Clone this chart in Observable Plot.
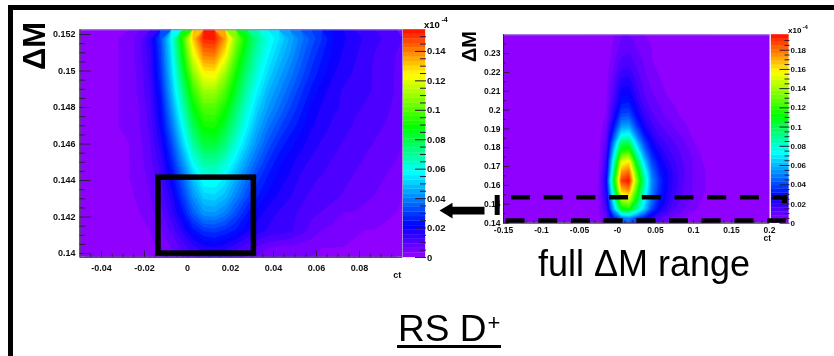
<!DOCTYPE html>
<html><head><meta charset="utf-8">
<script src="https://cdn.jsdelivr.net/npm/d3@7"></script>
<script src="https://cdn.jsdelivr.net/npm/@observablehq/plot@0.6"></script>
<style>
html,body{margin:0;padding:0;background:#fff;overflow:hidden}
#page{position:relative;width:834px;height:356px;overflow:hidden;font-family:"Liberation Sans",Arial,sans-serif;color:#000;filter:blur(0.3px)}
#page svg{position:absolute;overflow:visible;max-width:none;background:transparent}
.t{position:absolute;line-height:1;white-space:pre}
.rot{transform-origin:0 0;transform:rotate(-90deg);font-weight:bold}
.exp{font-weight:bold}
#border{position:absolute;left:7.5px;top:5px;right:-10px;bottom:-10px;border-top:5px solid #000;border-left:5px solid #000}
#rule{position:absolute;left:396.7px;top:345px;width:104.3px;height:3px;background:#000}
</style></head><body><div id="page"><div id="border"></div><div id="rule"></div></div>
<script>
// Shared colour stops (fraction of the palette top)
const paletteStops = [0, 0.13, 0.36, 0.56, 0.79, 1];
const paletteColors = ["#8f00ff", "#0000ff", "#00ffff", "#00ff00", "#ffff00", "#ff0000"];

// Left panel, zoomed ΔM range
const leftTickX = [-0.04, -0.02, 0, 0.02, 0.04, 0.06, 0.08];
const leftTickXLabels = ["-0.04", "-0.02", "0", "0.02", "0.04", "0.06", "0.08"];
const leftMinorX = [-0.045,-0.035,-0.03,-0.025,-0.015,-0.01,-0.005,0.005,0.01,0.015,0.025,0.03,0.035,0.045,0.05,0.055,0.065,0.07,0.075,0.085,0.09,0.095];
const leftTickY = [0.14, 0.142, 0.144, 0.146, 0.148, 0.15, 0.152];
const leftMinorY = [0.1405,0.141,0.1415,0.1425,0.143,0.1435,0.1445,0.145,0.1455,0.1465,0.147,0.1475,0.1485,0.149,0.1495,0.1505,0.151,0.1515];
const leftBarTicks = [0, 0.02, 0.04, 0.06, 0.08, 0.1, 0.12, 0.14];
const leftBarLabels = ["0", "0.02", "0.04", "0.06", "0.08", "0.1", "0.12", "0.14"];
const leftBarMinor = [0.005,0.01,0.015,0.025,0.03,0.035,0.045,0.05,0.055,0.065,0.07,0.075,0.085,0.09,0.095,0.105,0.11,0.115,0.125,0.13,0.135,0.145,0.15];
const leftBoxX = [-0.0135, 0.0309];
const leftBoxY = [0.14, 0.14416];
// density, rows bottom to top, 30 columns across ct -0.05 .. 0.1
const leftGrid = [
[.001,.001,.001,.001,.001,.002,.002,.004,.006,.010,.014,.017,.018,.016,.013,.010,.008,.006,.005,.005,.004,.004,.003,.003,.003,.002,.002,.002,.001,.001],
[.001,.001,.001,.001,.002,.002,.003,.006,.010,.016,.023,.028,.029,.027,.024,.019,.017,.015,.014,.013,.011,.008,.006,.005,.004,.004,.003,.003,.002,.002],
[.001,.001,.001,.002,.002,.003,.005,.008,.014,.023,.034,.042,.043,.039,.032,.025,.020,.017,.015,.013,.012,.010,.009,.008,.006,.006,.005,.004,.004,.003],
[.001,.001,.001,.002,.002,.004,.006,.010,.017,.029,.042,.051,.052,.048,.040,.032,.025,.021,.018,.016,.013,.012,.011,.010,.009,.008,.007,.006,.005,.004],
[.001,.001,.002,.002,.003,.004,.007,.012,.021,.034,.049,.059,.060,.055,.046,.037,.029,.024,.020,.018,.015,.013,.012,.011,.010,.009,.008,.007,.006,.005],
[.001,.001,.002,.002,.003,.005,.008,.014,.026,.042,.059,.069,.070,.064,.054,.044,.035,.028,.023,.020,.017,.015,.014,.012,.011,.010,.009,.008,.007,.006],
[.001,.001,.002,.002,.003,.005,.009,.017,.031,.050,.069,.081,.082,.074,.062,.051,.041,.033,.027,.023,.020,.017,.015,.014,.012,.011,.010,.009,.008,.007],
[.001,.001,.002,.003,.004,.006,.010,.020,.037,.057,.078,.090,.091,.082,.069,.057,.046,.038,.032,.027,.023,.019,.017,.015,.014,.012,.011,.010,.009,.007],
[.001,.001,.002,.003,.004,.006,.011,.022,.042,.064,.086,.099,.099,.090,.076,.062,.051,.043,.037,.031,.026,.021,.018,.016,.015,.013,.012,.011,.010,.008],
[.001,.001,.002,.003,.004,.007,.012,.025,.047,.071,.095,.110,.110,.099,.083,.068,.056,.047,.041,.035,.029,.024,.020,.017,.015,.014,.013,.012,.010,.009],
[.001,.001,.002,.003,.004,.007,.013,.028,.051,.078,.107,.124,.125,.110,.090,.074,.061,.052,.045,.039,.033,.027,.023,.019,.017,.015,.013,.012,.010,.009],
[.001,.001,.002,.003,.004,.008,.014,.030,.054,.086,.119,.139,.140,.124,.099,.080,.066,.056,.049,.043,.036,.030,.025,.021,.018,.016,.014,.012,.011,.009],
[.001,.001,.002,.003,.004,.008,.015,.032,.057,.092,.130,.152,.153,.136,.107,.086,.070,.060,.053,.046,.039,.033,.028,.022,.019,.017,.015,.013,.012,.010]
];

// Right panel, full ΔM range
const rightTickX = [-0.15, -0.1, -0.05, 0, 0.05, 0.1, 0.15, 0.2];
const rightTickXLabels = ["-0.15", "-0.1", "-0.05", "-0", "0.05", "0.1", "0.15", "0.2"];
const rightMinorX = [-0.14,-0.13,-0.12,-0.11,-0.09,-0.08,-0.07,-0.06,-0.04,-0.03,-0.02,-0.01,0.01,0.02,0.03,0.04,0.06,0.07,0.08,0.09,0.11,0.12,0.13,0.14,0.16,0.17,0.18,0.19];
const rightTickY = [0.14, 0.15, 0.16, 0.17, 0.18, 0.19, 0.2, 0.21, 0.22, 0.23];
const rightMinorY = [0.145,0.155,0.165,0.175,0.185,0.195,0.205,0.215,0.225,0.235];
const rightBarTicks = [0, 0.02, 0.04, 0.06, 0.08, 0.1, 0.12, 0.14, 0.16, 0.18];
const rightBarLabels = ["0", "0.02", "0.04", "0.06", "0.08", "0.1", "0.12", "0.14", "0.16", "0.18"];
const rightBarMinor = [0.005,0.01,0.015,0.025,0.03,0.035,0.045,0.05,0.055,0.065,0.07,0.075,0.085,0.09,0.095,0.105,0.11,0.115,0.125,0.13,0.135,0.145,0.15,0.155,0.165,0.17,0.175,0.185,0.19];
// density, rows bottom to top (ΔM 0.14 .. 0.24), 18 columns across ct -0.05 .. 0.13
const rightGrid = [
[0,.001,.003,.009,.030,.047,.050,.040,.030,.020,.013,.009,.006,.004,.002,.001,0,0],
[0,.001,.003,.014,.060,.108,.116,.090,.065,.040,.026,.018,.012,.009,.006,.004,.002,.001],
[0,.001,.004,.018,.075,.140,.148,.110,.075,.047,.032,.022,.015,.011,.008,.005,.003,.001],
[0,.001,.004,.021,.090,.168,.176,.124,.083,.050,.034,.024,.017,.012,.009,.006,.004,.002],
[0,.001,.004,.024,.105,.188,.196,.137,.090,.052,.036,.025,.018,.013,.009,.006,.004,.002],
[0,.001,.003,.020,.090,.172,.180,.124,.080,.047,.032,.024,.018,.013,.009,.006,.004,.002],
[0,.001,.003,.017,.080,.152,.160,.106,.066,.040,.028,.021,.016,.012,.009,.006,.003,.001],
[0,0,.002,.014,.065,.120,.125,.084,.052,.032,.023,.018,.014,.011,.008,.005,.002,.001],
[0,0,.002,.011,.052,.097,.100,.065,.040,.026,.019,.015,.012,.009,.006,.003,.001,0],
[0,0,.001,.008,.038,.069,.072,.048,.030,.020,.015,.012,.009,.007,.004,.002,.001,0],
[0,0,.001,.006,.028,.052,.054,.036,.023,.016,.012,.009,.007,.005,.003,.001,0,0],
[0,0,.001,.004,.021,.040,.041,.028,.018,.013,.009,.007,.005,.003,.002,.001,0,0],
[0,0,.001,.004,.017,.032,.033,.023,.015,.010,.008,.005,.004,.002,.001,0,0,0],
[0,0,0,.003,.014,.027,.028,.019,.012,.009,.006,.004,.002,.001,0,0,0,0],
[0,0,0,.003,.012,.023,.024,.016,.011,.007,.005,.003,.002,.001,0,0,0,0],
[0,0,0,.002,.010,.019,.020,.014,.009,.006,.004,.002,.001,0,0,0,0,0],
[0,0,0,.002,.008,.015,.016,.012,.008,.005,.003,.001,0,0,0,0,0,0],
[0,0,0,.001,.006,.012,.013,.010,.007,.004,.002,.001,0,0,0,0,0,0],
[0,0,0,.001,.005,.010,.011,.008,.006,.004,.002,0,0,0,0,0,0,0],
[0,0,0,.001,.004,.008,.009,.007,.005,.003,.001,0,0,0,0,0,0,0]
];
// Dashed selection outline and arrow on the right panel
const dashTop = {y: 0.1537, x1: -0.1395, x2: 0.222};
const dashBottom = {y: 0.1413, x1: -0.1467, x2: 0.222};
const sideBars = [{x: -0.1583, y1: 0.144, y2: 0.1546}, {x: 0.2197, y1: 0.1503, y2: 0.1546}];
const arrowX = [-0.2342, -0.2171, -0.2171, -0.175, -0.175, -0.2171, -0.2171, -0.2342];
const arrowY = [0.1466, 0.1508, 0.1487, 0.1487, 0.1445, 0.1445, 0.1424, 0.1466];

const page = document.getElementById("page");
const tickColor = "#2a1a40", font = '"Liberation Sans",Arial,sans-serif';
const place = (svg, left, top) => { svg.style.left = left + "px"; svg.style.top = top + "px"; page.appendChild(svg); };
const colorScale = top => ({type: "linear", domain: paletteStops.map(s => s * top), range: paletteColors, interpolate: "rgb"});

function colorbar({left, width, height, barWidth, marginTop, marginBottom, top, ticks, labels, minor, major, small, fontSize}) {
  const step = top / 50, levels = d3.range(50).map(i => i * step);
  return place(Plot.plot({
    width, height, marginLeft: 0, marginRight: width - barWidth, marginTop, marginBottom,
    x: {domain: [0, 1], axis: null},
    y: {domain: [0, top], axis: null},
    color: colorScale(top),
    style: {fontFamily: font, fontSize: fontSize + "px", fontWeight: "bold"},
    marks: [
      Plot.rect(levels, {x1: 0, x2: 1, y1: d => d, y2: d => d + step, fill: d => d, stroke: d => d, strokeWidth: 0.3}),
      Plot.axisY({ticks: minor, anchor: "right", tickSize: -small, text: null, label: null, stroke: tickColor}),
      Plot.axisY({ticks, anchor: "right", tickSize: -major, text: null, label: null, stroke: tickColor}),
      Plot.axisY({ticks, anchor: "right", tickSize: 0, tickPadding: 1.5, label: null, tickFormat: (d, i) => labels[i], fill: "#111"})
    ]
  }), left, 0);
}

function panel({left, width, height, ml, mr, mt, mb, xDomain, yDomain, grid, x1, x2, y1, y2, top, ct, fontSize, xTicks, xLabels, xMinor, yTicks, yMinor, yMajorLen, yMinorLen, xMajorLen, xMinorLen, padX, padY, extra}) {
  const step = top / 50, levels = d3.range(50).map(i => i * step);
  const w = grid[0].length, h = grid.length;
  return place(Plot.plot({
    width, height, marginLeft: ml, marginRight: mr, marginTop: mt, marginBottom: mb,
    x: {domain: xDomain, axis: null},
    y: {domain: yDomain, axis: null},
    color: colorScale(top),
    style: {fontFamily: font, fontSize: fontSize + "px", fontWeight: "bold"},
    marks: [
      Plot.rect([0], {x1: xDomain[0], x2: xDomain[1], y1: yDomain[0], y2: yDomain[1], fill: paletteColors[0]}),
      Plot.contour(grid.flat(), {x1, x2, y1, y2, width: w, height: h, fill: Plot.identity, thresholds: levels, stroke: "none", clip: true}),
      Plot.frame({stroke: "#a48ad0", strokeWidth: 1}),
      Plot.ruleX([xDomain[0]], {stroke: tickColor, strokeWidth: 1}),
      Plot.ruleY([yDomain[0]], {stroke: tickColor, strokeWidth: 1}),
      Plot.axisY({ticks: yMinor, tickSize: -yMinorLen, text: null, label: null, stroke: tickColor}),
      Plot.axisY({ticks: yTicks, tickSize: -yMajorLen, text: null, label: null, stroke: tickColor}),
      Plot.axisX({ticks: xMinor, tickSize: -xMinorLen, text: null, label: null, stroke: tickColor}),
      Plot.axisX({ticks: xTicks, tickSize: -xMajorLen, text: null, label: null, stroke: tickColor}),
      Plot.axisY({ticks: yTicks, tickSize: 0, tickPadding: padY, label: null, tickFormat: d => String(d), fill: "#111"}),
      Plot.axisX({ticks: xTicks, tickSize: 0, tickPadding: padX, label: null, tickFormat: (d, i) => xLabels[i], fill: "#111"}),
      Plot.text(["ct"], {x: ct.x, y: yDomain[0], dy: ct.dy, text: d => d, fill: "#111"}),
      ...extra
    ]
  }), left, 0);
}

colorbar({left: 403, width: 60, height: 285, barWidth: 22, marginTop: 29.3, marginBottom: 28, top: 0.1547,
  ticks: leftBarTicks, labels: leftBarLabels, minor: leftBarMinor, major: 11, small: 6, fontSize: 9.5});
colorbar({left: 771, width: 50, height: 250, barWidth: 17.5, marginTop: 34.3, marginBottom: 27.3, top: 0.196,
  ticks: rightBarTicks, labels: rightBarLabels, minor: rightBarMinor, major: 10, small: 5, fontSize: 8});

panel({left: 0, width: 403, height: 285, ml: 79.5, mr: 1, mt: 29.3, mb: 28.3,
  xDomain: [-0.05, 0.1], yDomain: [0.1398, 0.15226],
  grid: leftGrid, x1: -0.05, x2: 0.1, y1: 0.1398, y2: 0.15226, top: 0.1547,
  ct: {x: 0.0975, dy: 18}, fontSize: 9,
  xTicks: leftTickX, xLabels: leftTickXLabels, xMinor: leftMinorX,
  yTicks: leftTickY, yMinor: leftMinorY,
  yMajorLen: 11, yMinorLen: 6, xMajorLen: 6, xMinorLen: 3, padX: 7, padY: 4.5,
  extra: [
    Plot.rect([0], {x1: leftBoxX[0], x2: leftBoxX[1], y1: leftBoxY[0], y2: leftBoxY[1], fill: "none", stroke: "#000", strokeWidth: 5.5})
  ]});

panel({left: 430, width: 340, height: 250, ml: 73, mr: 1, mt: 34.3, mb: 27.5,
  xDomain: [-0.15, 0.2], yDomain: [0.14, 0.24],
  grid: rightGrid, x1: -0.05, x2: 0.13, y1: 0.14, y2: 0.24, top: 0.196,
  ct: {x: 0.197, dy: 15}, fontSize: 8.5,
  xTicks: rightTickX, xLabels: rightTickXLabels, xMinor: rightMinorX,
  yTicks: rightTickY, yMinor: rightMinorY,
  yMajorLen: 6, yMinorLen: 3, xMajorLen: 3, xMinorLen: 2, padX: 4, padY: 3,
  extra: [
    Plot.ruleY([dashTop], {y: "y", x1: "x1", x2: "x2", stroke: "#000", strokeWidth: 4.5, strokeDasharray: "19,13.7"}),
    Plot.ruleY([dashBottom], {y: "y", x1: "x1", x2: "x2", stroke: "#000", strokeWidth: 4.5, strokeDasharray: "19,13.7"}),
    Plot.ruleX(sideBars, {x: "x", y1: "y1", y2: "y2", stroke: "#000", strokeWidth: 5}),
    Plot.line(arrowX.map((x, i) => ({x, y: arrowY[i]})), {x: "x", y: "y", fill: "#000", stroke: "none"})
  ]});

// Real text placed on the page
function label(text, x, y, size, cls = "") {
  const el = document.createElement("div");
  el.className = "t " + cls; el.textContent = text;
  el.style.left = x + "px"; el.style.top = y + "px"; el.style.fontSize = size + "px";
  page.appendChild(el);
}
label("\u0394M", 18.8, 70, 31, "rot");
label("\u0394M", 459, 62, 20, "rot");
label("full \u0394M range", 538, 246.2, 36);
label("RS D", 398, 310.4, 37);
label("+", 487.5, 312.4, 22);
label("x10", 424, 20, 9.5, "exp");
label("-4", 441.5, 16, 7, "exp");
label("x10", 788, 27, 8, "exp");
label("-4", 802.5, 23.5, 6, "exp");
</script></body></html>
